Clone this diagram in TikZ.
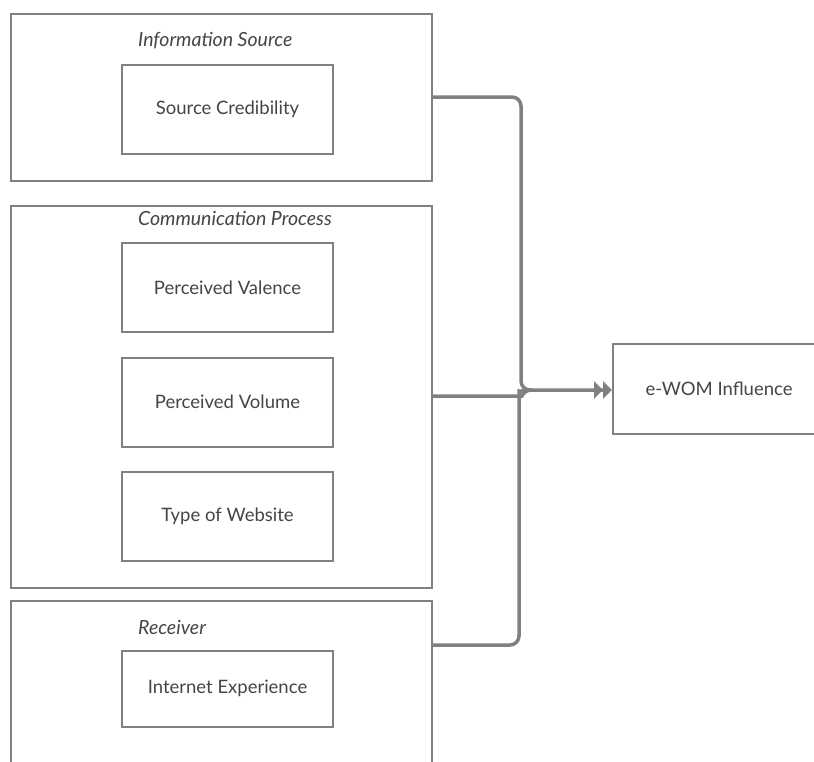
\documentclass[tikz,border=0pt]{standalone}
\usepackage{fontspec}
\setmainfont{Lato}
\usetikzlibrary{arrows.meta}
\definecolor{ln}{HTML}{808080}
\definecolor{tx}{HTML}{454545}
\tikzset{
  group/.style={draw=ln, line width=2bp, rectangle, inner sep=0pt},
  item/.style={draw=ln, line width=2bp, rectangle, inner sep=0pt, minimum width=211bp, minimum height=89bp, text=tx, font=\fontsize{18.5bp}{22bp}\selectfont},
  grouplabel/.style={text=tx, anchor=west, inner sep=0pt, font=\fontsize{19.5bp}{23bp}\selectfont\itshape},
  conn/.style={draw=ln, line width=3.5bp, rounded corners=9bp},
  tip/.style={-{Triangle[length=9bp,width=17bp]Triangle[length=9bp,width=17bp]}}
}
\begin{document}
\begin{tikzpicture}[x=1bp,y=-1bp]
\clip (0,0) rectangle (814,762);
\fill[white] (0,0) rectangle (814,762);
% groups
\node[group, minimum width=421bp, minimum height=167bp, anchor=north west] (gsrc) at (10,13) {};
\node[group, minimum width=421bp, minimum height=382bp, anchor=north west] (gcom) at (10,205) {};
\node[group, minimum width=421bp, minimum height=200bp, anchor=north west] (grec) at (10,600) {};
\node[grouplabel] (lsrc) at (138,41) {Information Source};
\node[grouplabel] (lcom) at (138,218) {Communication Process};
\node[grouplabel] (lrec) at (138,627) {Receiver};
% items
\node[item] (cred) at (227.5,109.5) {Source Credibility};
\node[item] (val) at (227.5,287.5) {Perceived Valence};
\node[item] (vol) at (227.5,402) {Perceived Volume};
\node[item] (web) at (227.5,516.5) {Type of Website};
\node[item, minimum height=76bp] (inet) at (227.5,688.5) {Internet Experience};
\node[item, minimum width=212bp, minimum height=90bp, anchor=west] (ewom) at (612,389) {e-WOM Influence};
% connectors
\coordinate (j1) at (521,97);
\coordinate (j2) at (521,390);
\coordinate (m) at (532,390);
\coordinate (k1) at (519,645);
\coordinate (k2) at (519,400);
\draw[conn, tip] (gsrc.east |- j1) -- (j1) -- (j2) -- (ewom.west |- j2);
\draw[conn] (gcom.east |- 0,396) -- (513,396) .. controls (522,396) and (524,390) .. (m);
\draw[conn] (grec.east |- k1) -- (k1) -- (k2) .. controls (519,392) and (524,390) .. (m);
\end{tikzpicture}
\end{document}
